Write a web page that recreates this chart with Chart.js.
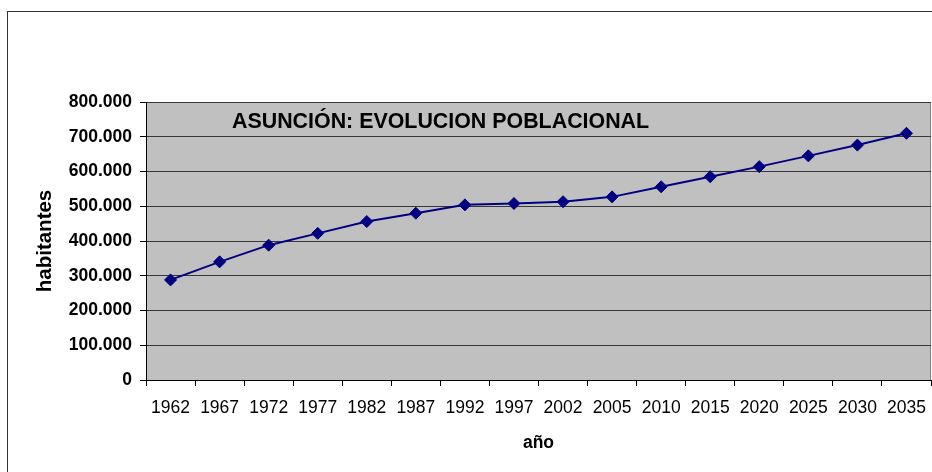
<!DOCTYPE html>
<html>
<head>
<meta charset="utf-8">
<title>Asunción: evolución poblacional</title>
<script src="https://cdn.jsdelivr.net/npm/chart.js@4/dist/chart.umd.min.js"></script>
<style>
  html, body { margin: 0; padding: 0; background: #fff; overflow: hidden; }
  #frame { position: absolute; left: 7px; top: 11px; width: 1000px; height: 1000px; border: 1px solid #333; }
  #wrap { position: absolute; left: 0; top: 0; width: 932px; height: 472px; }
</style>
</head>
<body>
<div id="frame"></div>
<div id="wrap"><canvas id="myChart" width="932" height="472"></canvas></div>
<script>
'use strict';

// years on the x axis
var years = ['1962', '1967', '1972', '1977', '1982', '1987', '1992', '1997',
  '2002', '2005', '2010', '2015', '2020', '2025', '2030', '2035'];

// inhabitants
var habitantes = [288000, 340000, 388000, 422000, 456000, 480000, 504000, 508000,
  513000, 527000, 556000, 585000, 614000, 645000, 676000, 710000];

// y axis tick labels
var yTicks = [0, 100000, 200000, 300000, 400000, 500000, 600000, 700000, 800000];

var chartTitle = 'ASUNCIÓN: EVOLUCION POBLACIONAL';

function formatThousands(v) {
  if (v === 0) return '0';
  return String(v).replace(/\B(?=(\d{3})+(?!\d))/g, '.');
}

// gray plot area + the title drawn inside it
var plotArea = {
  id: 'plotArea',
  beforeDraw: function(chart) {
    var a = chart.chartArea;
    var ctx = chart.ctx;
    ctx.save();
    ctx.fillStyle = '#c0c0c0';
    ctx.fillRect(a.left, a.top, a.right - a.left, a.bottom - a.top);
    ctx.strokeStyle = '#808080';
    ctx.lineWidth = 1;
    ctx.beginPath();
    ctx.moveTo(a.left, a.top + 0.5);
    ctx.lineTo(a.right - 0.5, a.top + 0.5);
    ctx.lineTo(a.right - 0.5, a.bottom);
    ctx.stroke();
    ctx.restore();
  },
  afterDatasetsDraw: function(chart) {
    var a = chart.chartArea;
    var ctx = chart.ctx;
    ctx.save();
    ctx.fillStyle = '#000';
    ctx.font = 'bold 21.4px "Liberation Sans", Arial, sans-serif';
    ctx.textBaseline = 'alphabetic';
    ctx.textAlign = 'left';
    ctx.fillText(chartTitle, a.left + 86, a.top + 26);
    ctx.restore();
  }
};

var ctx = document.getElementById('myChart').getContext('2d');
new Chart(ctx, {
  type: 'line',
  data: {
    labels: years,
    datasets: [{
      label: 'habitantes',
      data: habitantes,
      borderColor: '#000080',
      backgroundColor: '#000080',
      borderWidth: 2,
      pointStyle: 'rectRot',
      pointRadius: 6,
      pointBorderWidth: 1,
      pointBorderColor: '#000080',
      pointBackgroundColor: '#000080',
      tension: 0
    }]
  },
  options: {
    responsive: false,
    animation: false,
    layout: { autoPadding: false, padding: { left: 0, top: 102, right: 1, bottom: 0 } },
    plugins: {
      legend: { display: false },
      tooltip: { enabled: false }
    },
    scales: {
      x: {
        offset: true,
        afterFit: function(scale) {
          scale.height = 92;
          // labels sit inside their category, no extra side padding needed
          scale.paddingLeft = 0;
          scale.paddingRight = 0;
        },
        grid: {
          offset: true,
          drawOnChartArea: false,
          drawTicks: true,
          tickLength: 6,
          color: '#000'
        },
        border: { color: '#000', width: 1 },
        ticks: {
          color: '#000',
          padding: 12,
          maxRotation: 0,
          autoSkip: false,
          font: { family: '"Liberation Sans", Arial, sans-serif', size: 17.5 }
        },
        title: {
          display: true,
          text: 'año',
          color: '#000',
          padding: { top: 0, bottom: 18 },
          font: { family: '"Liberation Sans", Arial, sans-serif', size: 17.5, weight: 'bold' }
        }
      },
      y: {
        min: 0,
        max: 800000,
        afterFit: function(scale) { scale.width = 146; },
        afterBuildTicks: function(scale) {
          scale.ticks = yTicks.map(function(v) { return { value: v }; });
        },
        grid: {
          color: '#383838',
          tickColor: '#000',
          tickLength: 6,
          lineWidth: 1
        },
        border: { color: '#000', width: 1 },
        ticks: {
          color: '#000',
          padding: 8,
          callback: function(v) { return formatThousands(v); },
          font: { family: '"Liberation Sans", Arial, sans-serif', size: 17.5, weight: 'bold' }
        },
        title: {
          display: true,
          text: 'habitantes',
          color: '#000',
          padding: { top: 33, bottom: 0 },
          font: { family: '"Liberation Sans", Arial, sans-serif', size: 20.5, weight: 'bold' }
        }
      }
    }
  },
  plugins: [plotArea]
});
</script>
</body>
</html>
